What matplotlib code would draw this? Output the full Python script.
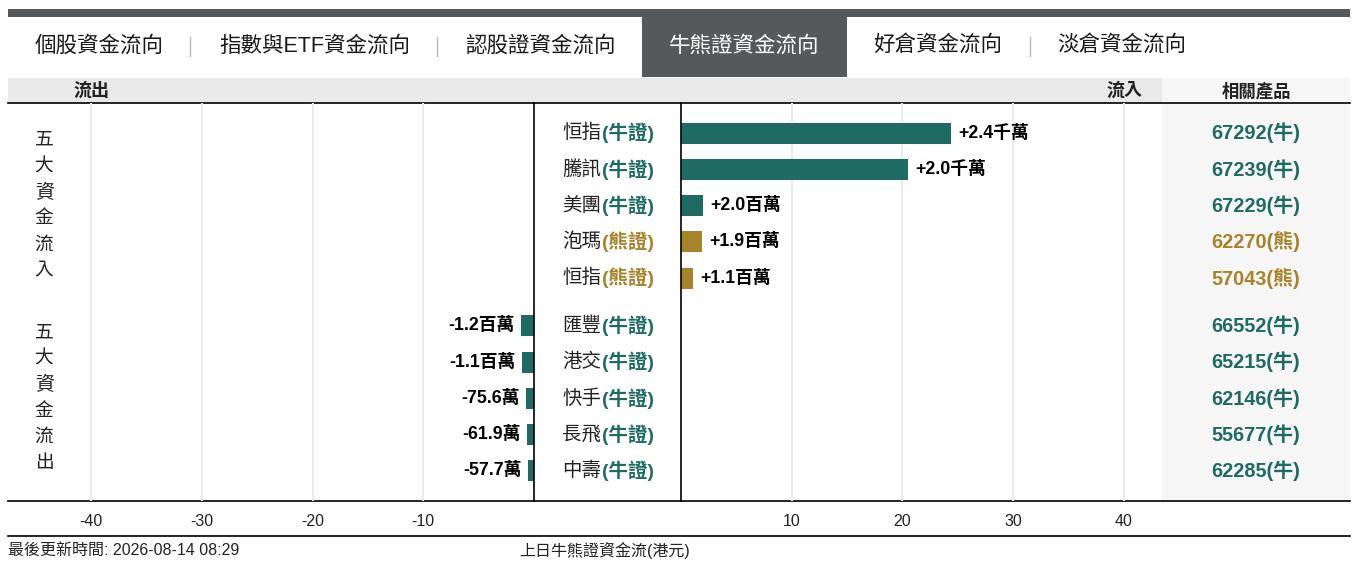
import numpy as np
import matplotlib
matplotlib.use('Agg')
import matplotlib.pyplot as plt
from matplotlib.patches import Rectangle
from matplotlib import transforms

plt.rcParams['font.family'] = ['Liberation Sans', 'Noto Sans CJK TC', 'DejaVu Sans']
plt.rcParams['axes.unicode_minus'] = False

# data (values in millions HKD)
in_names = ['恒指', '騰訊', '美團', '泡瑪', '恒指']
in_types = ['牛證', '牛證', '牛證', '熊證', '熊證']
in_values = [24.4, 20.5, 2.0, 1.9, 1.1]
in_labels = ['+2.4千萬', '+2.0千萬', '+2.0百萬', '+1.9百萬', '+1.1百萬']
in_codes = ['67292', '67239', '67229', '62270', '57043']

out_names = ['匯豐', '港交', '快手', '長飛', '中壽']
out_types = ['牛證', '牛證', '牛證', '牛證', '牛證']
out_values = [-1.2, -1.1, -0.756, -0.619, -0.577]
out_labels = ['-1.2百萬', '-1.1百萬', '-75.6萬', '-61.9萬', '-57.7萬']
out_codes = ['66552', '65215', '62146', '55677', '62285']

tabs = ['個股資金流向', '指數與ETF資金流向', '認股證資金流向', '牛熊證資金流向', '好倉資金流向', '淡倉資金流向']
active_tab = 3
left_ticks = [-40, -30, -20, -10]
right_ticks = [10, 20, 30, 40]

TEAL = '#1e6b63'
GOLD = '#a7832a'
DARK = '#55595c'
colour = {'牛證': TEAL, '熊證': GOLD}

W, H = 1356, 567
fig = plt.figure(figsize=(W / 100, H / 100), dpi=100)

bg = fig.add_axes([0, 0, 1, 1])
bg.set_xlim(0, W)
bg.set_ylim(H, 0)
bg.axis('off')

def px_axes(x0, x1, y0, y1):
    a = fig.add_axes([x0 / W, 1 - y1 / H, (x1 - x0) / W, (y1 - y0) / H])
    a.set_facecolor('none')
    return a

# top tab bar
bg.add_patch(Rectangle((8, 9), 1342, 8, color=DARK, lw=0))
tab_x = [99, 315, 540, 744, 938, 1122]
sep_x = [190, 437, 1030]
bg.add_patch(Rectangle((642, 17), 205, 60, color=DARK, lw=0))
for i, (t, x) in enumerate(zip(tabs, tab_x)):
    bg.text(x, 46, t, ha='center', va='center', fontsize=15.5, fontweight='medium',
            color='white' if i == active_tab else '#1a1a1a')
for x in sep_x:
    bg.plot([x, x], [37, 56], color='#bbbbbb', lw=1)

# header band
bg.add_patch(Rectangle((8, 78), 1154, 25, color='#e9e9e9', lw=0))
bg.add_patch(Rectangle((1162, 78), 188, 423, color='#f6f6f6', lw=0))
bg.text(91, 90.5, '流出', ha='center', va='center', fontsize=13, fontweight='bold', color='#222222')
bg.text(1124, 90.5, '流入', ha='center', va='center', fontsize=13, fontweight='bold', color='#222222')
bg.text(1256, 90.5, '相關產品', ha='center', va='center', fontsize=12.5, fontweight='bold', color='#222222')

# horizontal rules
for y in [103, 501, 536]:
    bg.plot([8, 1350], [y, y], color='black', lw=1.2)

# row positions
ypos = np.r_[np.arange(5), np.arange(5) + 5.32]
ylim = (ypos[-1] + 0.83, -0.83)
bar_h = 0.58

axL = px_axes(8, 534, 103, 501)
axR = px_axes(681, 1162, 103, 501)
for a in (axL, axR):
    a.set_ylim(*ylim)
    a.set_yticks([])
    a.tick_params(axis='x', length=0, pad=9, labelsize=11.5, labelcolor='#222222')
    a.grid(axis='x', color='#ebebeb', lw=1.5)
    a.set_axisbelow(True)
    for s in a.spines.values():
        s.set_visible(False)
axL.set_xlim(-47.5, 0)
axR.set_xlim(0, 43.45)
axL.set_xticks(left_ticks)
axR.set_xticks(right_ticks)
axL.spines['right'].set_visible(True)
axR.spines['left'].set_visible(True)
axL.spines['right'].set_linewidth(1.2)
axR.spines['left'].set_linewidth(1.2)

y_in = ypos[:5]
y_out = ypos[5:]
axR.barh(y_in, in_values, height=bar_h, color=[colour[t] for t in in_types])
axL.barh(y_out, out_values, height=bar_h, color=[colour[t] for t in out_types])

for y, v, lab in zip(y_in, in_values, in_labels):
    axR.annotate(lab, (v, y), xytext=(5, 0), textcoords='offset points',
                 ha='left', va='center', fontsize=12.8, fontweight='bold', color='black')
for y, v, lab in zip(y_out, out_values, out_labels):
    axL.annotate(lab, (v, y), xytext=(-4.5, 0), textcoords='offset points',
                 ha='right', va='center', fontsize=12.8, fontweight='bold', color='black')

# middle labels and product codes
blend = transforms.blended_transform_factory(bg.transData, axL.transData)
names = in_names + out_names
types = in_types + out_types
codes = in_codes + out_codes
for y, n, t, c in zip(ypos, names, types, codes):
    col = colour[t]
    bg.text(601, y, n, transform=blend, ha='right', va='center', fontsize=14, color='#222222')
    bg.text(602, y, '(' + t + ')', transform=blend, ha='left', va='center',
            fontsize=14, fontweight='bold', color=col)
    bg.text(1256, y, c + '(' + t[0] + ')', transform=blend, ha='center', va='center',
            fontsize=14.3, fontweight='bold', color=col)

# side labels
for word, grp in [('五大資金流入', y_in), ('五大資金流出', y_out)]:
    mid = grp.mean()
    for k, ch in enumerate(word):
        bg.text(44, mid + (k - 2.5) * 0.72, ch, transform=blend, ha='center', va='center',
                fontsize=13.5, color='#222222')

# footer
bg.text(8, 550, '最後更新時間: 2026-08-14 08:29', ha='left', va='center', fontsize=11.5, color='#222222')
bg.text(605, 550, '上日牛熊證資金流(港元)', ha='center', va='center', fontsize=11.5, color='#222222')

fig.savefig('out.png', dpi=100)
